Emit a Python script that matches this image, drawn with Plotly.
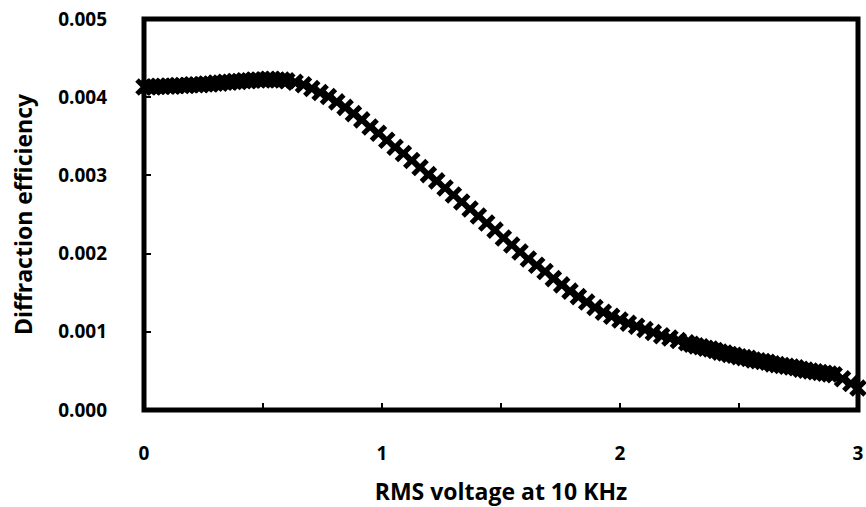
import plotly.graph_objects as go

voltage = [
    0.00, 0.02, 0.04, 0.06, 0.08, 0.10, 0.12, 0.14, 0.16, 0.18,
    0.20, 0.22, 0.24, 0.26, 0.28, 0.30, 0.32, 0.34, 0.36, 0.38,
    0.40, 0.42, 0.44, 0.46, 0.48, 0.50, 0.52, 0.54, 0.56, 0.58, 0.60,
    0.635, 0.670, 0.705, 0.740, 0.775, 0.810, 0.845, 0.880, 0.915, 0.950,
    0.985, 1.020, 1.055, 1.090, 1.125, 1.160, 1.195, 1.230, 1.265, 1.300,
    1.335, 1.370, 1.405, 1.440, 1.475, 1.510, 1.545, 1.580, 1.615, 1.650,
    1.685, 1.720, 1.755, 1.790, 1.825, 1.860, 1.895, 1.930, 1.965, 2.000,
    2.035, 2.070, 2.105, 2.140, 2.175, 2.210, 2.245, 2.280,
    2.30, 2.32, 2.34, 2.36, 2.38, 2.40, 2.42, 2.44, 2.46, 2.48,
    2.50, 2.52, 2.54, 2.56, 2.58, 2.60, 2.62, 2.64, 2.66, 2.68,
    2.70, 2.72, 2.74, 2.76, 2.78, 2.80, 2.82, 2.84, 2.86, 2.88, 2.90,
    2.935, 2.970, 3.000,
]

efficiency = [
    0.00413, 0.00413, 0.00413, 0.00414, 0.00414, 0.00414, 0.00414, 0.00415, 0.00415, 0.00415,
    0.00416, 0.00416, 0.00416, 0.00417, 0.00417, 0.00418, 0.00418, 0.00419, 0.00419, 0.00420,
    0.00420, 0.00421, 0.00421, 0.00422, 0.00422, 0.00422, 0.00423, 0.00423, 0.00422, 0.00422, 0.00421,
    0.00419, 0.00416, 0.00411, 0.00406, 0.00401, 0.00394, 0.00387, 0.00379, 0.00371, 0.00362,
    0.00354, 0.00345, 0.00336, 0.00328, 0.00319, 0.00310, 0.00301, 0.00293, 0.00284, 0.00275,
    0.00266, 0.00257, 0.00248, 0.00239, 0.00230, 0.00220, 0.00211, 0.00202, 0.00193, 0.00185,
    0.00177, 0.00168, 0.00160, 0.00152, 0.00145, 0.00138, 0.00131, 0.00125, 0.00120, 0.00115,
    0.00111, 0.00107, 0.00103, 0.00099, 0.00095, 0.00092, 0.00089, 0.00086,
    0.00084, 0.00082, 0.00081, 0.00079, 0.00078, 0.00076, 0.00074, 0.00073, 0.00071, 0.00070,
    0.00068, 0.00067, 0.00066, 0.00064, 0.00063, 0.00062, 0.00061, 0.00059, 0.00058, 0.00057,
    0.00056, 0.00055, 0.00054, 0.00052, 0.00051, 0.00050, 0.00049, 0.00048, 0.00047, 0.00046, 0.00045,
    0.00040, 0.00034, 0.00028,
]

x_tick_vals = [0, 1, 2, 3]
x_tick_text = ["0", "1", "2", "3"]
y_tick_vals = [0.0, 0.001, 0.002, 0.003, 0.004, 0.005]
y_tick_text = ["0.000", "0.001", "0.002", "0.003", "0.004", "0.005"]

x_title = "RMS voltage at 10 KHz"
y_title = "Diffraction efficiency"

FONT = "Open Sans"
font_ticks = dict(family=FONT, size=19, color="black", weight="bold")
font_title = dict(family=FONT, size=23, color="black", weight="bold")

fig = go.Figure(
    go.Scatter(
        x=voltage,
        y=efficiency,
        mode="markers",
        marker=dict(symbol="x-thin", size=14, color="black",
                    line=dict(width=5, color="black")),
        cliponaxis=False,
        showlegend=False,
    )
)

axis_common = dict(
    showline=False, showgrid=False, zeroline=False, automargin=False,
    ticks="inside", ticklen=7, tickwidth=2, tickcolor="black",
    tickfont=font_ticks, ticklabeloverflow="allow",
)

fig.update_layout(
    width=866, height=507,
    margin=dict(l=144, r=8, t=19, b=97),
    paper_bgcolor="white", plot_bgcolor="white",
    xaxis=dict(
        range=[0, 3], tickmode="array", tickvals=x_tick_vals, ticktext=x_tick_text,
        minor=dict(dtick=0.5, tick0=0, ticks="inside", ticklen=7, tickwidth=2, tickcolor="black"),
        ticklabelstandoff=30,
        title=dict(text=x_title, font=font_title, standoff=29),
        **axis_common,
    ),
    yaxis=dict(
        range=[0, 0.005], tickmode="array", tickvals=y_tick_vals, ticktext=y_tick_text,
        ticklabelstandoff=36,
        title=dict(text=y_title, font=font_title, standoff=19),
        **axis_common,
    ),
    shapes=[dict(type="rect", xref="paper", yref="paper", x0=0, x1=1, y0=0, y1=1,
                 line=dict(color="black", width=5), layer="above")],
)

fig.write_html(
    "out.html",
    config={"displayModeBar": False},
    post_script="document.body.style.margin='0';document.body.style.overflow='hidden';",
)
